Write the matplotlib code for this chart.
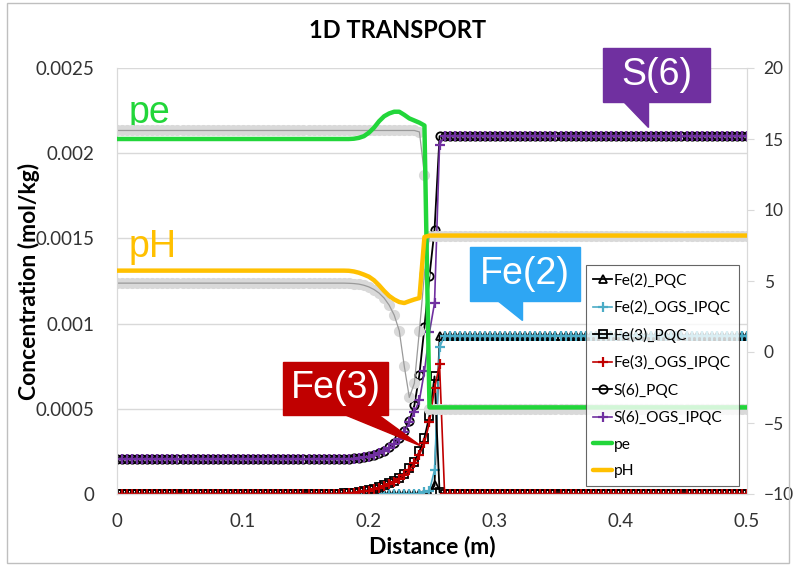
import numpy as np
import matplotlib.pyplot as plt
from matplotlib.patches import Polygon, Rectangle

plt.rcParams["font.family"] = ["Lato", "DejaVu Sans"]

# distance grid (m), cells of 0.004 m; the reaction front sits between 0.18 and 0.264
distance = np.round(np.arange(0, 0.5 + 1e-9, 0.004), 3)
N_LEFT, N_RIGHT = 45, 59

fe2_pqc_front = [0, 0, 0, 0, 0, 0, 0, 0, 0, 0, 0, 0, 0, 0, 0, 0, 0, 0,
                 0.00005, 0.00093, 0.00093, 0.00093]
fe2_ogs_front = [0, 0, 0, 0, 0, 0, 0, 0, 0, 0, 0, 0, 0, 0, 0, 0, 0.00001, 0.00002,
                 0.00014, 0.00086, 0.00093, 0.00093]
fe3_pqc_front = [0.000003, 0.000005, 0.000008, 0.000012, 0.000018, 0.000024, 0.000031,
                 0.00004, 0.00005, 0.000062, 0.000078, 0.000095, 0.000118, 0.00015,
                 0.00019, 0.00025, 0.00033, 0.00046, 0.00069, 0.00001, 0, 0]
fe3_ogs_front = [0.000002, 0.000004, 0.000006, 0.00001, 0.000015, 0.00002, 0.000027,
                 0.000035, 0.000045, 0.000057, 0.000072, 0.00009, 0.00011, 0.00014,
                 0.00018, 0.00023, 0.0003, 0.00042, 0.00062, 0.00076, 0, 0]
s6_pqc_front = [0.000206, 0.000207, 0.000209, 0.000212, 0.000216, 0.000222, 0.00023,
                0.00024, 0.000255, 0.000275, 0.0003, 0.00033, 0.00037, 0.00043,
                0.00052, 0.0007, 0.00098, 0.00128, 0.00155, 0.0021, 0.0021, 0.0021]
s6_ogs_front = [0.000205, 0.000206, 0.000208, 0.000211, 0.000215, 0.00022, 0.000228,
                0.000238, 0.000252, 0.00027, 0.000295, 0.000325, 0.000365, 0.00042,
                0.00048, 0.00055, 0.00072, 0.00095, 0.00112, 0.00205, 0.0021, 0.0021]
pe_front = [15.0, 15.0, 15.02, 15.08, 15.2, 15.45, 15.8, 16.25, 16.6, 16.8, 16.92,
            16.92, 16.7, 16.45, 16.3, 16.15, 15.95, -3.9, -3.9, -3.9, -3.9, -3.9]
ph_front = [5.73, 5.72, 5.67, 5.58, 5.45, 5.3, 5.05, 4.7, 4.3, 3.95, 3.7, 3.52, 3.45,
            3.58, 3.7, 3.8, 8.1, 8.2, 8.2, 8.2, 8.2, 8.2]
pe_pqc_front = [15.6, 15.6, 15.6, 15.6, 15.6, 15.6, 15.6, 15.6, 15.6, 15.6, 15.6,
                15.6, 15.6, 15.6, 15.6, 15.5, 12.5, -4.0, -4.0, -4.0, -4.0, -4.0]
ph_pqc_front = [4.85, 4.84, 4.82, 4.78, 4.7, 4.58, 4.4, 4.15, 3.8, 3.3, 2.6, 1.5, -1.0,
                -3.2, -2.2, 1.5, 5.5, 8.2, 8.2, 8.2, 8.2, 8.2]


def profile(left, front, right):
    return np.array([left] * N_LEFT + front + [right] * N_RIGHT)


fe2_pqc = profile(0, fe2_pqc_front, 0.00093)
fe2_ogs = profile(0, fe2_ogs_front, 0.00093)
fe3_pqc = profile(0, fe3_pqc_front, 0)
fe3_ogs = profile(0, fe3_ogs_front, 0)
s6_pqc = profile(0.000205, s6_pqc_front, 0.0021)
s6_ogs = profile(0.000205, s6_ogs_front, 0.0021)
pe = profile(15.0, pe_front, -3.9)
ph = profile(5.73, ph_front, 8.2)
pe_pqc = profile(15.6, pe_pqc_front, -4.0)
ph_pqc = profile(4.85, ph_pqc_front, 8.2)

W, H = 795, 567
fig = plt.figure(figsize=(W / 100, H / 100), dpi=100)


def fp(px, py):
    """pixel position -> figure fraction"""
    return (px / W, 1 - py / H)


ax = fig.add_axes([117 / W, 1 - 494 / H, 630 / W, 426 / H])
ax2 = ax.twinx()

grid_c = "#d9d9d9"
ax.set_xlim(0, 0.5)
ax.set_ylim(0, 0.0025)
ax2.set_ylim(-10, 20)
ax.set_yticks([0, 0.0005, 0.001, 0.0015, 0.002, 0.0025])
ax.set_yticklabels(["0", "0.0005", "0.001", "0.0015", "0.002", "0.0025"])
ax.set_xticks([0, 0.1, 0.2, 0.3, 0.4, 0.5])
ax.set_xticklabels(["0", "0.1", "0.2", "0.3", "0.4", "0.5"])
ax2.set_yticks([-10, -5, 0, 5, 10, 15, 20])
ax.grid(axis="y", color=grid_c, lw=1)
ax.set_axisbelow(True)
for a in (ax, ax2):
    for s in a.spines.values():
        s.set_color(grid_c)
    a.spines["top"].set_visible(False)
ax.tick_params(axis="y", length=0, labelsize=13.5, labelcolor="#333333", pad=16)
ax.tick_params(axis="x", length=0, labelsize=13.5, labelcolor="#333333", pad=14)
ax2.tick_params(axis="y", length=5, color=grid_c, labelsize=12.5, labelcolor="#333333", pad=7)

ms = 6
ax.plot(distance, fe2_pqc, "-", color="black", lw=1.3, marker="^", ms=ms,
        mfc="none", mec="black", mew=1.3, label="Fe(2)_PQC")
ax.plot(distance, fe2_ogs, "-", color="#4bacc6", lw=1.2, marker="+", ms=7,
        mew=1.6, label="Fe(2)_OGS_IPQC")
ax.plot(distance, fe3_pqc, "-", color="black", lw=1.3, marker="s", ms=ms,
        mfc="none", mec="black", mew=1.3, label="Fe(3)_PQC")
ax.plot(distance, fe3_ogs, "-", color="#c00000", lw=1.2, marker="+", ms=7,
        mew=1.6, label="Fe(3)_OGS_IPQC")
ax.plot(distance, s6_pqc, "-", color="black", lw=1.3, marker="o", ms=ms,
        mfc="none", mec="black", mew=1.3, label="S(6)_PQC")
ax.plot(distance, s6_ogs, "-", color="#7030a0", lw=1.2, marker="+", ms=7,
        mew=1.6, label="S(6)_OGS_IPQC")

# PHREEQC pe / pH reference curves (grey, not in legend)
for vals in (pe_pqc, ph_pqc):
    ax2.plot(distance, vals, "o", ms=7, mfc="#d9d9d9", mec="#d9d9d9", zorder=2)
    ax2.plot(distance, vals, "-", color="#9a9a9a", lw=0.9, zorder=2.1)
ax2.plot(distance, pe, color="#22d63a", lw=3.2, solid_capstyle="round", label="pe", zorder=3)
ax2.plot(distance, ph, color="#ffc000", lw=3.2, solid_capstyle="round", label="pH", zorder=3)

h1, l1 = ax.get_legend_handles_labels()
h2, l2 = ax2.get_legend_handles_labels()
leg = ax2.legend(h1 + h2, l1 + l2, loc="upper left", bbox_to_anchor=(0.744, 0.538),
                 borderaxespad=0, fontsize=11.2, frameon=True, fancybox=False,
                 edgecolor="#404040", handlelength=1.2, handletextpad=0.1,
                 labelspacing=0.8, borderpad=0.5)
leg.get_frame().set_linewidth(0.8)
leg.set_zorder(10)

ax.set_xlabel("Distance (m)", fontsize=16.5, fontweight="bold", labelpad=4)
ax.set_ylabel("Concentration (mol/kg)", fontsize=16.5, fontweight="bold")
ax.yaxis.set_label_coords(-0.122, 0.5)
fig.text(0.5, 1 - 30 / H, "1D TRANSPORT", ha="center", va="center",
         fontsize=17, fontweight="bold")

# big labels for pe and pH
ax.text(0.009, 0.00218, "pe", color="#22d63a", fontsize=27, family="Liberation Sans")
ax.text(0.009, 0.00139, "pH", color="#ffc000", fontsize=27, family="Liberation Sans")


def callout(box, pointer, text, color):
    x0, y0, x1, y1 = box
    fig.patches.append(Rectangle(fp(x0, y1), (x1 - x0) / W, (y1 - y0) / H,
                                 transform=fig.transFigure, color=color, zorder=20))
    fig.patches.append(Polygon([fp(*p) for p in pointer], closed=True,
                               transform=fig.transFigure, color=color, zorder=20))
    cx, cy = fp((x0 + x1) / 2, (y0 + y1) / 2)
    fig.text(cx, cy, text, ha="center", va="center", color="white", fontsize=27,
             family="Liberation Sans", zorder=21)


callout((603, 48, 710, 102), [(623, 101), (648, 101), (648, 127)], "S(6)", "#7030a0")
callout((470, 247, 580, 301), [(497, 300), (522, 300), (522, 320)], "Fe(2)", "#2ea6f3")
callout((283, 362, 388, 415), [(343, 414), (377, 414), (421, 446)], "Fe(3)", "#c00000")

fig.patches.append(Rectangle(fp(7, 563), 782 / W, 560 / H, transform=fig.transFigure,
                             fill=False, edgecolor="#bfbfbf", lw=1, zorder=0))

fig.savefig("out.png", dpi=100)
